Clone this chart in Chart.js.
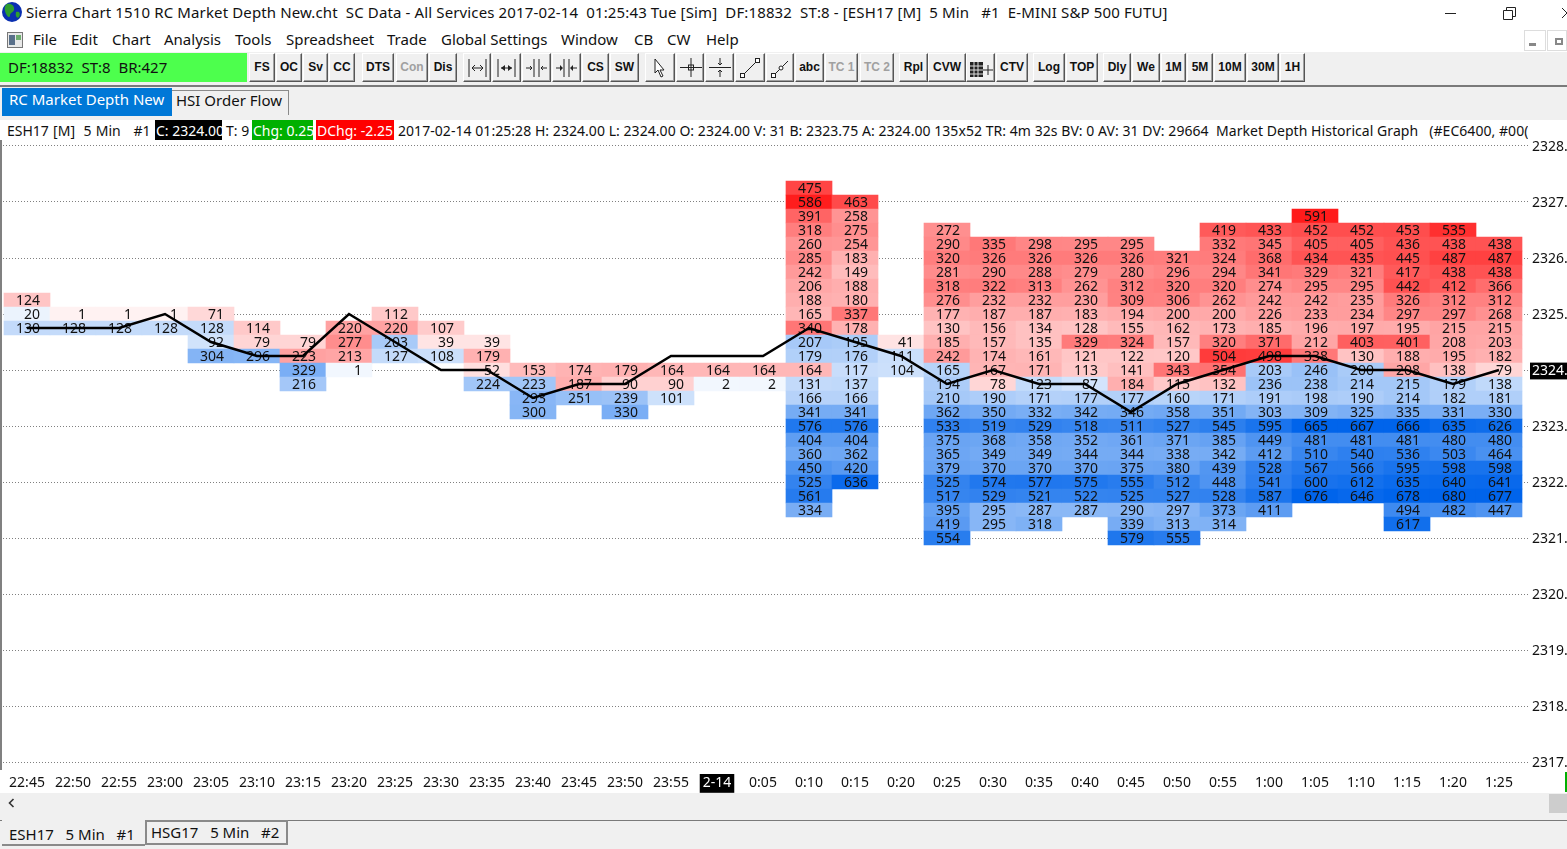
<!DOCTYPE html>
<html>
<head>
<meta charset="utf-8">
<title>RC Market Depth New</title>
<script src="https://cdn.jsdelivr.net/npm/chart.js@4"></script>
<style>
html, body { margin: 0; padding: 0; width: 1567px; height: 849px; overflow: hidden; background: #fff; }
body { font: 15px "Noto Sans", sans-serif; color: #111; position: relative; }
.t { position: absolute; white-space: pre; line-height: 20px; }
.info .t { font-size: 14px; }
.bar { position: absolute; left: 0; width: 1567px; }
.btn { position: absolute; top: 53px; height: 29px; box-sizing: border-box; background: #f0f0f0;
       border: 1px solid; border-color: #fff #555 #555 #fff; box-shadow: inset -1px -1px 0 #a0a0a0;
       font: bold 12px "Liberation Sans", sans-serif; color: #111; text-align: center; line-height: 27px; }
.btn.off { color: #a0a0a0; }
.btn svg { position: absolute; left: 0; top: 1px; }
#chartBox { position: absolute; left: 0; top: 120px; width: 1567px; height: 673px; }
</style>
</head>
<body>

<!-- title bar -->
<svg style="position:absolute;left:1px;top:1px" width="22" height="22" viewBox="0 0 22 22">
  <circle cx="11" cy="11" r="10" fill="#0a2fb0"/>
  <path d="M6 3 C10 2 14 5 13 9 C12 12 9 11 9 15 C8 18 5 14 4 10 C3 7 4 4 6 3Z" fill="#2f9e2f"/>
  <path d="M15 11 C18 10 20 12 18 16 C16 18 14 15 15 11Z" fill="#2f9e2f"/>
</svg>
<div class="t" style="left:26px;top:2px;letter-spacing:0.13px" id="titleText">Sierra Chart 1510 RC Market Depth New.cht  SC Data - All Services 2017-02-14  01:25:43 Tue [Sim]  DF:18832  ST:8 - [ESH17 [M]  5 Min   #1  E-MINI S&amp;P 500 FUTU]</div>
<svg style="position:absolute;left:1440px;top:4px" width="127" height="18">
  <path d="M5 9.5H16" stroke="#222" fill="none"/>
  <path d="M63.5 6.5h9v9h-9zM66.5 6.5v-3h9v9h-3" stroke="#222" fill="none"/>
  <path d="M122 4l10 10M132 4l-10 10" stroke="#222" fill="none"/>
</svg>

<!-- menu bar -->
<svg style="position:absolute;left:7px;top:32px" width="16" height="16">
  <rect x="0.5" y="0.5" width="15" height="15" fill="#e8e8e8" stroke="#777"/>
  <rect x="2" y="3" width="6" height="10" fill="#59708a"/>
  <rect x="9" y="3" width="5" height="5" fill="#6fae6f"/>
</svg>
<div class="t" style="left:33px;top:29px">File</div>
<div class="t" style="left:71px;top:29px">Edit</div>
<div class="t" style="left:112px;top:29px">Chart</div>
<div class="t" style="left:164px;top:29px">Analysis</div>
<div class="t" style="left:235px;top:29px">Tools</div>
<div class="t" style="left:286px;top:29px">Spreadsheet</div>
<div class="t" style="left:387px;top:29px">Trade</div>
<div class="t" style="left:441px;top:29px">Global Settings</div>
<div class="t" style="left:561px;top:29px">Window</div>
<div class="t" style="left:634px;top:29px">CB</div>
<div class="t" style="left:667px;top:29px">CW</div>
<div class="t" style="left:706px;top:29px">Help</div>
<div style="position:absolute;left:1524px;top:30px;width:22px;height:21px;box-sizing:border-box;border:1px solid #ddd;background:#fff"></div>
<div style="position:absolute;left:1529px;top:43px;width:7px;height:3px;background:#888"></div>
<div style="position:absolute;left:1547px;top:30px;width:20px;height:21px;box-sizing:border-box;border:1px solid #ddd;background:#fff"></div>
<div style="position:absolute;left:1555px;top:38px;width:8px;height:7px;box-sizing:border-box;border:2px solid #888"></div>

<!-- toolbar -->
<div class="bar" style="top:52px;height:34px;background:#f0f0f0"></div>
<div class="bar" style="top:85px;height:2px;background:#7a7a7a"></div>
<div style="position:absolute;left:0;top:53px;width:247px;height:29px;background:#4dff4d"></div>
<div class="t" style="left:8px;top:57px">DF:18832  ST:8  BR:427</div>
<div id="toolbar"></div>

<!-- tabs row -->
<div class="bar" style="top:87px;height:33px;background:#f0f0f0"></div>
<div style="position:absolute;left:2px;top:88px;width:170px;height:28px;background:#0078d7"></div>
<div class="t" style="left:9px;top:89px;color:#fff">RC Market Depth New</div>
<div style="position:absolute;left:172px;top:90px;width:117px;height:25px;box-sizing:border-box;border:1px solid #8a8a8a;border-left:none;border-bottom:none;background:#f0f0f0"></div>
<div class="t" style="left:176px;top:90px">HSI Order Flow</div>

<!-- chart -->
<div id="chartBox"><canvas id="depthChart" width="1567" height="673"></canvas></div>
<div style="position:absolute;left:0;top:140px;width:2px;height:630px;background:#808080"></div>
<div style="position:absolute;left:1565px;top:772px;width:2px;height:20px;background:#00b000"></div>

<!-- info line -->
<div class="info" style="position:absolute;left:0;top:120px;width:1530px;height:20px;overflow:hidden;background:#fff">
  <div class="t" style="left:7px;top:1px;word-spacing:0.6px">ESH17 [M]  5 Min   #1</div>
  <div style="position:absolute;left:155px;top:0;width:67px;height:20px;background:#000;overflow:hidden"><div class="t" style="left:1px;top:1px;color:#fff">C: 2324.00</div></div>
  <div class="t" style="left:226px;top:1px">T: 9</div>
  <div style="position:absolute;left:252px;top:0;width:61px;height:20px;background:#00b000;overflow:hidden"><div class="t" style="left:1px;top:1px;color:#fff">Chg: 0.25</div></div>
  <div style="position:absolute;left:316px;top:0;width:78px;height:20px;background:#ff0000;overflow:hidden"><div class="t" style="left:1px;top:1px;color:#fff">DChg: -2.25</div></div>
  <div class="t" style="left:398px;top:1px;width:1130px;overflow:hidden;letter-spacing:0.05px" id="infoText">2017-02-14 01:25:28 H: 2324.00 L: 2324.00 O: 2324.00 V: 31 B: 2323.75 A: 2324.00 135x52 TR: 4m 32s BV: 0 AV: 31 DV: 29664  Market Depth Historical Graph   (#EC6400, #00(</div>
</div>

<!-- bottom scrollbar and tabs -->
<div class="bar" style="top:793px;height:56px;background:#f0f0f0"></div>
<svg style="position:absolute;left:6px;top:797px" width="12" height="12"><path d="M7.5 2L3.5 6l4 4" stroke="#333" stroke-width="1.6" fill="none"/></svg>
<div style="position:absolute;left:1549px;top:794px;width:18px;height:19px;background:#cdcdcd"></div>
<div class="bar" style="top:820px;height:1px;background:#7a7a7a"></div>
<div style="position:absolute;left:2px;top:820px;width:143px;height:26px;box-sizing:border-box;border-bottom:2px solid #8a8a8a;background:#f0f0f0"></div>
<div class="t" style="left:9px;top:824px">ESH17   5 Min   #1</div>
<div style="position:absolute;left:145px;top:820px;width:143px;height:25px;box-sizing:border-box;border:2px solid #8a8a8a;background:#f0f0f0"></div>
<div class="t" style="left:151px;top:822px">HSG17   5 Min   #2</div>

<script>
// X axis labels, one per 5 minute bar
const timeLabels = ['22:45', '22:50', '22:55', '23:00', '23:05', '23:10', '23:15', '23:20', '23:25', '23:30', '23:35',
    '23:40', '23:45', '23:50', '23:55', '2-14', '0:05', '0:10', '0:15', '0:20', '0:25', '0:30', '0:35', '0:40', '0:45',
    '0:50', '0:55', '1:00', '1:05', '1:10', '1:15', '1:20', '1:25'];

// Last traded price of each bar
const closePrices = [2324.75, 2324.75, 2324.75, 2325, 2324.5, 2324.25, 2324.25, 2325, 2324.5, 2324, 2324,
    2323.5, 2323.75, 2323.75, 2324.25, 2324.25, 2324.25, 2324.75, 2324.5, 2324.25, 2323.75, 2324, 2323.75, 2323.75,
    2323.25, 2323.75, 2324, 2324.25, 2324.25, 2324, 2324, 2323.75, 2324];

// Price of the top depth cell in each bar
const depthTopPrices = [2325.25, 2325, 2325, 2325, 2325, 2324.75, 2324.5, 2324.75, 2325, 2324.75, 2324.5,
    2324, 2324, 2324, 2324, 2324, 2324, 2327.25, 2327, 2324.5, 2326.5, 2326.25, 2326.25, 2326.25,
    2326.25, 2326, 2326.5, 2326.5, 2326.75, 2326.5, 2326.5, 2326.5, 2326.25];

// Depth quantities per bar, top cell first, one tick apart. Positive is an ask (red), negative a bid (blue)
const depthValues = [
    [124, -20, -130],
    [1, -128],
    [1, -128],
    [1, -128],
    [71, -128, -92, -304],
    [114, 79, -296],
    [79, 223, -329, -216],
    [220, 277, 213, -1],
    [112, 220, -203, -127],
    [107, 39, -108],
    [39, 179, 52, -224],
    [153, -223, -293, -300],
    [174, 187, -251],
    [179, 90, -239, -330],
    [164, 90, -101],
    [164, -2],
    [164, -2],
    [475, 586, 391, 318, 260, 285, 242, 206, 188, 165, 340, -207, -179, 164, -131, -166, -341, -576, -404, -360, -450, -525, -561, -334],
    [463, 258, 275, 254, 183, 149, 188, 180, 337, 178, -195, -176, -117, -137, -166, -341, -576, -404, -362, -420, -636],
    [41, -111, -104],
    [272, 290, 320, 281, 318, 276, 177, 130, 185, 242, -165, -194, -210, -362, -533, -375, -365, -379, -525, -517, -395, -419, -554],
    [335, 326, 290, 322, 232, 187, 156, 157, 174, 167, 78, -190, -350, -519, -368, -349, -370, -574, -529, -295, -295],
    [298, 326, 288, 313, 232, 187, 134, 135, 161, 171, -123, -171, -332, -529, -358, -349, -370, -577, -521, -287, -318],
    [295, 326, 279, 262, 230, 183, 128, 329, 121, 113, -87, -177, -342, -518, -352, -344, -370, -575, -522, -287],
    [295, 326, 280, 312, 309, 194, 155, 324, 122, 141, 184, -177, -346, -511, -361, -344, -375, -555, -525, -290, -339, -579],
    [321, 296, 320, 306, 200, 162, 157, 120, 343, 115, -160, -358, -527, -371, -338, -380, -512, -527, -297, -313, -555],
    [419, 332, 324, 294, 320, 262, 200, 173, 320, 504, 354, 132, -171, -351, -545, -385, -342, -439, -448, -528, -373, -314],
    [433, 345, 368, 341, 274, 242, 226, 185, 371, 498, -203, -236, -191, -303, -595, -449, -412, -528, -541, -587, -411],
    [591, 452, 405, 434, 329, 295, 242, 233, 196, 212, 338, -246, -238, -198, -309, -665, -481, -510, -567, -600, -676],
    [452, 405, 435, 321, 295, 235, 234, 197, 403, 130, -200, -214, -190, -325, -667, -481, -540, -566, -612, -646],
    [453, 436, 445, 417, 442, 326, 297, 195, 401, 188, 208, -215, -214, -335, -666, -481, -536, -595, -635, -678, -494, -617],
    [535, 438, 487, 438, 412, 312, 297, 215, 208, 195, 138, -179, -182, -331, -635, -480, -503, -598, -640, -680, -482],
    [438, 487, 438, 366, 312, 268, 215, 203, 182, 79, -138, -181, -330, -626, -480, -464, -598, -641, -677, -447]
];

const tickSize = 0.25;
const lastPrice = 2324;
const midnightLabel = '2-14';
const labelFont = '14px "Noto Sans", sans-serif';

// Toolbar buttons, [text, left, right]
const toolButtons = [
    ['FS', 249, 275], ['OC', 276, 302], ['Sv', 303, 328], ['CC', 329, 355],
    ['DTS', 362, 394], ['Con', 396, 428, 'off'], ['Dis', 429, 457],
    ['<svg width="28" height="25"><path d="M5 4v18M22 4v18M8 13h11M8 13l3-3M8 13l3 3M19 13l-3-3M19 13l-3 3" stroke="#222" fill="none"/></svg>', 463, 491],
    ['<svg width="28" height="25"><path d="M5 4v18M22 4v18M8 13h11" stroke="#222" fill="none"/><path d="M8 13l4-3v6zM19 13l-4-3v6z" fill="#222"/></svg>', 492, 521],
    ['<svg width="28" height="25"><path d="M11 4v18M16 4v18M3 13h6M7 11l2 2-2 2M24 13h-6M20 11l-2 2 2 2" stroke="#222" fill="none"/></svg>', 522, 551],
    ['<svg width="28" height="25"><path d="M11 4v18M16 4v18M3 13h5M24 13h-5" stroke="#222" fill="none"/><path d="M10 13l-3-3v6zM17 13l3-3v6z" fill="#222"/></svg>', 552, 581],
    ['CS', 582, 609], ['SW', 610, 639],
    ['<svg width="28" height="25"><path d="M9 4l0 14 3-3 3 7 2-1-3-6 4 0z" stroke="#222" fill="#fff"/></svg>', 645, 675],
    ['<svg width="28" height="25"><path d="M3 12.5h22M14 3v19" stroke="#222" fill="none"/><rect x="11.5" y="10" width="5" height="5" fill="none" stroke="#222"/></svg>', 676, 704],
    ['<svg width="28" height="25"><path d="M3 12.5h22M14 3v7M14 15v7M12 8l2 2 2-2M12 17l2-2 2 2" stroke="#222" fill="none"/></svg>', 705, 734],
    ['<svg width="28" height="25"><path d="M7 20L21 6" stroke="#222"/><rect x="4.5" y="18.5" width="4" height="4" fill="#fff" stroke="#222"/><rect x="19.5" y="3.5" width="4" height="4" fill="#fff" stroke="#222"/></svg>', 735, 765],
    ['<svg width="28" height="25"><path d="M7 20L21 6" stroke="#222"/><rect x="4.5" y="18.5" width="4" height="4" fill="#fff" stroke="#222"/><circle cx="14" cy="13" r="2" fill="#fff" stroke="#222"/></svg>', 766, 794],
    ['abc', 795, 824], ['TC 1', 825, 858, 'off'], ['TC 2', 860, 894, 'off'],
    ['Rpl', 899, 928], ['CVW', 928, 966],
    ['<svg width="28" height="25"><rect x="3" y="7" width="13" height="15" fill="#222"/><path d="M3 11h13M3 15h13M3 19h13M7 7v15M11 7v15" stroke="#ddd"/><path d="M16 15h10M21 10v10" stroke="#222"/></svg>', 966, 995],
    ['CTV', 996, 1028], ['Log', 1033, 1065], ['TOP', 1066, 1098], ['Dly', 1103, 1131], ['We', 1132, 1160],
    ['1M', 1161, 1186], ['5M', 1187, 1213], ['10M', 1214, 1246], ['30M', 1247, 1279], ['1H', 1280, 1305]
];

const toolbar = document.getElementById('toolbar');
toolButtons.forEach(b => {
    const el = document.createElement('div');
    el.className = 'btn' + (b[3] ? ' ' + b[3] : '');
    el.style.left = b[1] + 'px';
    el.style.width = (b[2] - b[1]) + 'px';
    el.innerHTML = b[0];
    toolbar.appendChild(el);
});

// Build one floating bar per depth cell
const depthCells = [];
depthValues.forEach((column, i) => {
    column.forEach((value, row) => {
        const price = depthTopPrices[i] - row * tickSize;
        depthCells.push({ x: i, y: [price - tickSize / 2, price + tickSize / 2], qty: value });
    });
});

// Shade goes with the quantity, opaque so the grid stays behind it
function cellColor(value) {
    const alpha = Math.min(1, 0.05 + Math.abs(value) / 700);
    const base = value > 0 ? [255, 0, 0] : [0, 100, 235];
    const mixed = base.map(c => Math.round(255 + (c - 255) * alpha));
    return `rgb(${mixed[0]},${mixed[1]},${mixed[2]})`;
}

// Quantities are written over the cells, before the price line is drawn
const cellLabels = {
    id: 'cellLabels',
    afterDatasetDraw(chart, args) {
        if (args.index !== 0) return;
        const ctx = chart.ctx;
        const x = chart.scales.x;
        const y = chart.scales.y;
        ctx.save();
        ctx.font = labelFont;
        ctx.fillStyle = '#111';
        ctx.textAlign = 'right';
        ctx.textBaseline = 'middle';
        depthCells.forEach(cell => {
            const price = (cell.y[0] + cell.y[1]) / 2;
            ctx.fillText(String(Math.abs(cell.qty)), x.getPixelForValue(cell.x) + 13, y.getPixelForValue(price) + 1);
        });
        ctx.restore();
    }
};

new Chart(document.getElementById('depthChart').getContext('2d'), {
    data: {
        datasets: [
            {
                type: 'bar',
                data: depthCells,
                order: 2,
                backgroundColor: depthCells.map(c => cellColor(c.qty)),
                borderWidth: 0,
                barPercentage: 1,
                categoryPercentage: 1
            },
            {
                type: 'line',
                data: closePrices.map((p, i) => ({ x: i, y: p })),
                order: 1,
                borderColor: '#000',
                borderWidth: 2.5,
                pointRadius: 0,
                tension: 0
            }
        ]
    },
    options: {
        responsive: false,
        animation: false,
        events: [],
        layout: { padding: { top: 19 } },
        plugins: { legend: { display: false }, tooltip: { enabled: false } },
        scales: {
            x: {
                type: 'linear',
                offset: false,
                min: -27 / 46,
                max: 1503 / 46,
                afterFit: s => { s.height = 24; },
                grid: { display: false, drawTicks: false },
                border: { display: false },
                ticks: {
                    stepSize: 1,
                    includeBounds: false,
                    autoSkip: false,
                    maxRotation: 0,
                    padding: 6,
                    font: { family: '"Noto Sans", sans-serif', size: 14 },
                    callback: v => timeLabels[v],
                    color: c => timeLabels[c.tick.value] === midnightLabel ? '#fff' : '#111',
                    showLabelBackdrop: c => timeLabels[c.tick.value] === midnightLabel,
                    backdropColor: '#000',
                    backdropPadding: { top: 1, bottom: 1, left: 3, right: 3 }
                }
            },
            y: {
                position: 'right',
                min: 2316.875,
                max: 2328.125,
                afterFit: s => { s.width = 37; },
                grid: { color: '#808080', drawTicks: false },
                border: { display: false, dash: [1, 2] },
                ticks: {
                    stepSize: 1,
                    includeBounds: false,
                    padding: 2,
                    labelOffset: 1,
                    font: { family: '"Noto Sans", sans-serif', size: 14 },
                    callback: v => v.toFixed(2),
                    color: c => c.tick.value === lastPrice ? '#fff' : '#111',
                    showLabelBackdrop: c => c.tick.value === lastPrice,
                    backdropColor: '#000',
                    backdropPadding: { top: 0, bottom: 0, left: 2, right: 2 }
                }
            }
        }
    },
    plugins: [cellLabels]
});
</script>
</body>
</html>
